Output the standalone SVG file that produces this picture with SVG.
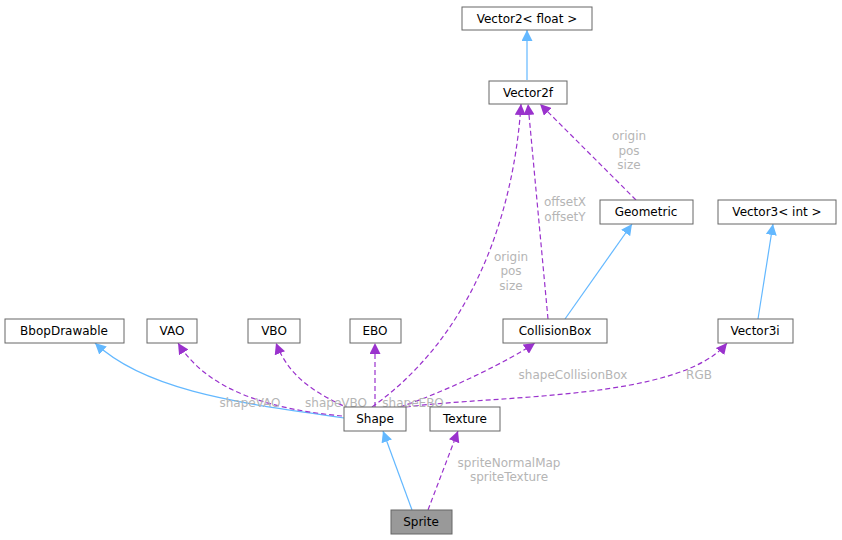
<svg xmlns="http://www.w3.org/2000/svg" width="842" height="540" viewBox="0 0 842 540">
<defs>
<style>
.n rect{fill:#fff;stroke:#666;stroke-width:1}
.n text,.l{font-family:"DejaVu Sans",sans-serif;font-size:12px;text-anchor:middle}
.l{fill:#b5b5b5}
.inh{fill:none;stroke:#63b8ff;stroke-width:1.2}
.use{fill:none;stroke:#9a32cd;stroke-width:1.2;stroke-dasharray:5,3}
</style>
<marker id="ab" viewBox="0 0 10 10" refX="10" refY="5" markerWidth="11" markerHeight="11" markerUnits="userSpaceOnUse" orient="auto"><path d="M0,0L10,5L0,10z" fill="#63b8ff"/></marker>
<marker id="ap" viewBox="0 0 10 10" refX="10" refY="5" markerWidth="11" markerHeight="11" markerUnits="userSpaceOnUse" orient="auto"><path d="M0,0L10,5L0,10z" fill="#9a32cd"/></marker>
</defs>
<rect width="842" height="540" fill="#fff"/>
<g id="connectors">
<path class="inh" marker-end="url(#ab)" d="M527,80L527,30"/>
<path class="inh" marker-end="url(#ab)" d="M344,418C260,405 150,395 95,343"/>
<path class="inh" marker-end="url(#ab)" d="M565,319L632,224"/>
<path class="inh" marker-end="url(#ab)" d="M758,319L773,224"/>
<path class="inh" marker-end="url(#ab)" d="M412,510L383,431"/>
<path class="use" marker-end="url(#ap)" d="M342,416C280,410 210,395 178,343"/>
<path class="use" marker-end="url(#ap)" d="M350,409C320,395 290,380 276,343"/>
<path class="use" marker-end="url(#ap)" d="M375,407L375,343"/>
<path class="use" marker-end="url(#ap)" d="M400,407C450,390 510,360 535,343"/>
<path class="use" marker-end="url(#ap)" d="M406,407C500,395 680,400 727,343"/>
<path class="use" marker-end="url(#ap)" d="M372,407C480,330 515,200 521,104"/>
<path class="use" marker-end="url(#ap)" d="M548,319L528,104"/>
<path class="use" marker-end="url(#ap)" d="M636,200L540,104"/>
<path class="use" marker-end="url(#ap)" d="M428,510L458,431"/>
<text class="l" x="629" y="140">origin</text><text class="l" x="629" y="155">pos</text><text class="l" x="629" y="169">size</text>
<text class="l" x="565" y="206">offsetX</text><text class="l" x="565" y="221">offsetY</text>
<text class="l" x="511" y="261">origin</text><text class="l" x="511" y="275">pos</text><text class="l" x="511" y="290">size</text>
<text class="l" x="250" y="407">shapeVAO</text>
<text class="l" x="336" y="407">shapeVBO</text>
<text class="l" x="413" y="407">shapeEBO</text>
<text class="l" x="573" y="379">shapeCollisionBox</text>
<text class="l" x="699" y="379">RGB</text>
<text class="l" x="509" y="467">spriteNormalMap</text><text class="l" x="509" y="481">spriteTexture</text>
</g>
<g id="Vector2float" class="n"><rect x="462" y="7" width="130" height="23"/><text x="527" y="23">Vector2&lt; float &gt;</text></g>
<g id="Vector2f" class="n"><rect x="489" y="81" width="78" height="23"/><text x="528" y="97">Vector2f</text></g>
<g id="Geometric" class="n"><rect x="600" y="200" width="93" height="24"/><text x="646" y="216">Geometric</text></g>
<g id="Vector3int" class="n"><rect x="718" y="200" width="118" height="24"/><text x="777" y="216">Vector3&lt; int &gt;</text></g>
<g id="BbopDrawable" class="n"><rect x="5" y="319" width="119" height="24"/><text x="64" y="335">BbopDrawable</text></g>
<g id="VAO" class="n"><rect x="147" y="319" width="50" height="24"/><text x="172" y="335">VAO</text></g>
<g id="VBO" class="n"><rect x="248" y="319" width="52" height="24"/><text x="274" y="335">VBO</text></g>
<g id="EBO" class="n"><rect x="350" y="319" width="51" height="24"/><text x="375" y="335">EBO</text></g>
<g id="CollisionBox" class="n"><rect x="503" y="319" width="104" height="24"/><text x="555" y="335">CollisionBox</text></g>
<g id="Vector3i" class="n"><rect x="718" y="319" width="75" height="24"/><text x="755" y="335">Vector3i</text></g>
<g id="Shape" class="n"><rect x="344" y="407" width="62" height="24"/><text x="375" y="423">Shape</text></g>
<g id="Texture" class="n"><rect x="430" y="407" width="70" height="24"/><text x="465" y="423">Texture</text></g>
<g id="Sprite" class="n"><rect x="391" y="510" width="61" height="24" style="fill:#999"/><text x="421" y="526">Sprite</text></g>
</svg>
